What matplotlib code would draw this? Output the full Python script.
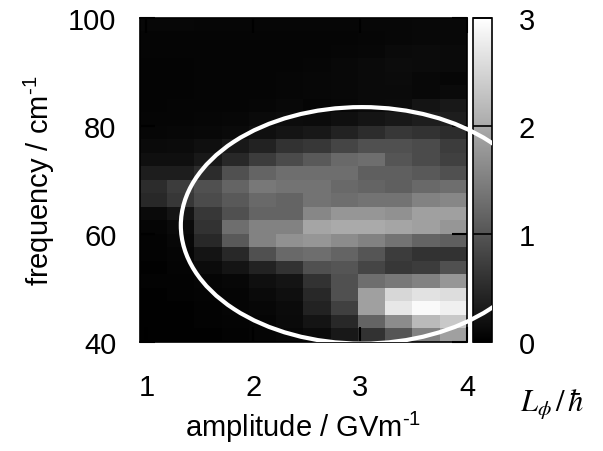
import numpy as np
import matplotlib
matplotlib.use('Agg')
import matplotlib.pyplot as plt
from matplotlib.patches import Ellipse

plt.rcParams['font.family'] = 'Liberation Sans'
plt.rcParams['mathtext.fontset'] = 'custom'
plt.rcParams['mathtext.rm'] = 'Liberation Sans'
plt.rcParams['mathtext.it'] = 'Liberation Sans:italic'

# angular momentum L_phi / hbar on the (amplitude, frequency) grid
# rows run from 100 cm^-1 (top) down to 40 cm^-1, 2.5 cm^-1 per row
# columns run over the amplitude range 0.94 .. 4.0 GV/m
L_phi = [
    [0.09, 0.09, 0.08, 0.08, 0.08, 0.08, 0.08, 0.08, 0.09, 0.09, 0.10, 0.10],
    [0.07, 0.07, 0.07, 0.06, 0.06, 0.06, 0.06, 0.07, 0.08, 0.09, 0.10, 0.10],
    [0.06, 0.06, 0.06, 0.06, 0.06, 0.06, 0.07, 0.08, 0.09, 0.12, 0.14, 0.12],
    [0.05, 0.05, 0.06, 0.06, 0.06, 0.07, 0.08, 0.10, 0.12, 0.15, 0.14, 0.12],
    [0.05, 0.05, 0.06, 0.06, 0.07, 0.08, 0.09, 0.10, 0.12, 0.14, 0.10, 0.08],
    [0.05, 0.05, 0.06, 0.07, 0.07, 0.08, 0.09, 0.10, 0.12, 0.12, 0.10, 0.12],
    [0.05, 0.06, 0.06, 0.07, 0.08, 0.10, 0.06, 0.09, 0.12, 0.14, 0.24, 0.29],
    [0.06, 0.07, 0.08, 0.09, 0.12, 0.15, 0.14, 0.18, 0.24, 0.29, 0.35, 0.35],
    [0.08, 0.09, 0.10, 0.12, 0.18, 0.24, 0.29, 0.41, 0.53, 0.65, 0.59, 0.53],
    [0.12, 0.14, 0.18, 0.29, 0.41, 0.59, 0.65, 0.82, 0.94, 0.94, 0.88, 0.71],
    [0.18, 0.18, 0.29, 0.47, 0.71, 0.88, 1.06, 1.24, 1.29, 1.00, 0.88, 0.76],
    [0.35, 0.35, 0.53, 0.94, 1.18, 1.29, 1.29, 1.29, 1.12, 1.12, 1.06, 0.94],
    [0.53, 0.71, 0.94, 1.18, 1.41, 1.35, 1.35, 1.24, 1.18, 1.12, 1.24, 1.29],
    [0.47, 0.65, 0.88, 1.06, 1.24, 1.18, 1.35, 1.29, 1.35, 1.35, 1.53, 1.59],
    [0.12, 0.24, 0.65, 0.94, 1.18, 1.18, 1.59, 1.76, 1.76, 1.71, 1.88, 1.88],
    [0.06, 0.12, 0.59, 1.29, 1.53, 1.53, 1.94, 2.00, 2.00, 1.94, 1.88, 1.76],
    [0.04, 0.09, 0.47, 1.06, 1.53, 1.71, 1.76, 1.65, 1.53, 1.35, 1.18, 1.12],
    [0.04, 0.06, 0.24, 0.47, 0.94, 1.24, 1.29, 1.18, 1.00, 0.71, 0.59, 0.59],
    [0.02, 0.05, 0.14, 0.24, 0.41, 0.59, 0.94, 1.00, 0.82, 0.65, 0.71, 0.94],
    [0.04, 0.04, 0.06, 0.09, 0.18, 0.24, 0.59, 0.94, 1.29, 1.41, 1.53, 1.76],
    [0.02, 0.04, 0.05, 0.07, 0.12, 0.18, 0.47, 0.94, 1.88, 2.53, 2.65, 2.59],
    [0.02, 0.02, 0.04, 0.06, 0.09, 0.14, 0.41, 0.76, 1.88, 2.71, 2.94, 2.82],
    [0.02, 0.02, 0.04, 0.05, 0.07, 0.12, 0.24, 0.47, 1.18, 1.65, 2.18, 2.35],
    [0.02, 0.02, 0.02, 0.04, 0.06, 0.09, 0.14, 0.29, 0.59, 1.00, 1.53, 1.88],
]
amp_range = (0.94, 4.0)
freq_range = (40, 100)
x_ticks = [1, 2, 3, 4]
y_ticks = [40, 60, 80, 100]
cb_ticks = [0, 1, 2, 3]

# marked region (centre, full width, full height) in data units
ell_center = (3.017, 61.6)
ell_width = 3.39
ell_height = 43.8

fig = plt.figure(figsize=(6.03, 4.52), dpi=100)
W, H = 603.0, 452.0
ax = fig.add_axes([140 / W, 109 / H, 327 / W, 324 / H])
cax = fig.add_axes([473 / W, 109 / H, 19 / W, 324 / H])

im = ax.imshow(np.array(L_phi), cmap='gray', vmin=0, vmax=3, origin='upper',
               extent=[amp_range[0], amp_range[1], freq_range[0], freq_range[1]],
               aspect='auto', interpolation='nearest')
ax.set_xlim(amp_range)
ax.set_ylim(freq_range)
ax.set_xticks(x_ticks)
ax.set_yticks(y_ticks)
ax.tick_params(direction='in', length=11, width=1.5, labelsize=21,
               top=True, right=True, color='black')
ax.tick_params(axis='x', pad=22)
ax.tick_params(axis='y', pad=17)
for s in ax.spines.values():
    s.set_linewidth(1.2)
ax.set_xlabel(r'amplitude / GVm$^{\text{-}1}$', fontsize=21, labelpad=6)
ax.set_ylabel(r'frequency / cm$^{\text{-}1}$', fontsize=21, labelpad=8)

cb = fig.colorbar(im, cax=cax, ticks=cb_ticks)
cb.outline.set_linewidth(1.2)
cax.tick_params(direction='in', length=13.7, width=1.2, labelsize=21, pad=19,
                color='black')
cax.text(2.5, -0.19, r'$L_\phi\,/\,\hbar$', transform=cax.transAxes,
         fontsize=22, math_fontfamily='stix', ha='left', va='center')

# transparent layer on top so the ellipse runs over the colour bar
over = fig.add_axes([140 / W, 109 / H, 352 / W, 324 / H])
over.patch.set_alpha(0)
over.axis('off')
over.set_xlim(amp_range[0], amp_range[0] + (amp_range[1] - amp_range[0]) * 352 / 327)
over.set_ylim(freq_range)
over.add_patch(Ellipse(ell_center, ell_width, ell_height, fill=False,
                       edgecolor='white', linewidth=3))

fig.savefig('out.png', dpi=100)
